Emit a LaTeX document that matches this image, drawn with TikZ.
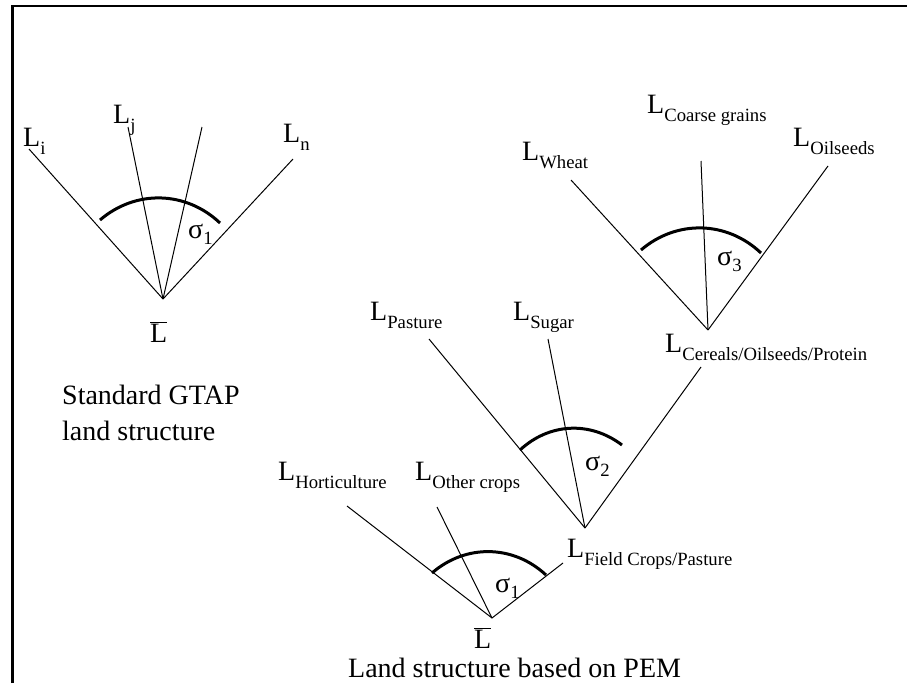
\documentclass[tikz,border=0pt]{standalone}
\usepackage{fontspec}
\setmainfont{Liberation Serif}
\newcommand{\Lsub}[1]{L\raisebox{-8pt}{\fontsize{18.7}{20}\selectfont #1}}
\newcommand{\Sigsub}[1]{σ\raisebox{-6pt}{\fontsize{18.7}{20}\selectfont #1}}
\newcommand{\Lbar}{$\overline{\hbox{L}}$}
\begin{document}
\begin{tikzpicture}[x=1pt,y=-1pt,
  branch/.style={line width=1pt},
  sigarc/.style={line width=3pt},
  frame/.style={line width=2.5pt, line join=miter},
  lbl/.style={anchor=base west, inner sep=0pt, font=\fontsize{28}{32}\selectfont}]
\useasboundingbox (0,0) rectangle (907,683);
% frame (cropped box)
\coordinate (fbl) at (12.5,683);
\coordinate (ftl) at (12.5,6);
\coordinate (ftr) at (907,6);
\draw[frame] (fbl) -- (ftl) -- (ftr);

% ---------- Standard GTAP ----------
\coordinate (a1) at (163,299);
\coordinate (li) at (29,149);
\coordinate (lj) at (128,127);
\coordinate (lu) at (202,127);
\coordinate (ln) at (293,159);
\coordinate (s1a) at (100,220);
\coordinate (s1b) at (220,223);
\draw[branch] (a1) -- (li);
\draw[branch] (a1) -- (lj);
\draw[branch] (a1) -- (lu);
\draw[branch] (a1) -- (ln);
\draw[sigarc] (s1a) to[bend left=42] (s1b);
\node[lbl] (tLi) at (23,146) {\Lsub{i}};
\node[lbl] (tLj) at (113,123) {\Lsub{j}};
\node[lbl] (tLn) at (283,142) {\Lsub{n}};
\node[lbl] (tS1) at (188,238) {\Sigsub{1}};
\node[lbl, text depth=0pt] (tLbar1) at (150,342) {\Lbar};
\node[lbl] (tStd1) at (62,404) {Standard GTAP};
\node[lbl] (tStd2) at (62,440) {land structure};

% ---------- PEM: cereals nest ----------
\coordinate (a3) at (708,330);
\coordinate (lw) at (571,180);
\coordinate (lc) at (701,161);
\coordinate (lo) at (828,166);
\coordinate (s3a) at (641,250);
\coordinate (s3b) at (761,253);
\draw[branch] (a3) -- (lw);
\draw[branch] (a3) -- (lc);
\draw[branch] (a3) -- (lo);
\draw[sigarc] (s3a) to[bend left=42] (s3b);
\node[lbl] (tLw) at (522,160) {\Lsub{Wheat}};
\node[lbl] (tLc) at (647,113) {\Lsub{Coarse grains}};
\node[lbl] (tLo) at (793,146) {\Lsub{Oilseeds}};
\node[lbl] (tS3) at (717,265) {\Sigsub{3}};
\node[lbl] (tLcer) at (665,352) {\Lsub{Cereals/Oilseeds/Protein}};

% ---------- PEM: field crops nest ----------
\coordinate (a2) at (585,528);
\coordinate (lp) at (429,339);
\coordinate (ls) at (548,339);
\coordinate (lcer) at (701,367);
\coordinate (s2a) at (520,450);
\coordinate (s2b) at (622,445);
\draw[branch] (a2) -- (lp);
\draw[branch] (a2) -- (ls);
\draw[branch] (a2) -- (lcer);
\draw[sigarc] (s2a) to[bend left=40] (s2b);
\node[lbl] (tLp) at (370,320) {\Lsub{Pasture}};
\node[lbl] (tLs) at (513,320) {\Lsub{Sugar}};
\node[lbl] (tS2) at (585,470) {\Sigsub{2}};
\node[lbl] (tLf) at (567,557) {\Lsub{Field Crops/Pasture}};

% ---------- PEM: top nest ----------
\coordinate (a0) at (492,618);
\coordinate (lh) at (347,506);
\coordinate (lot) at (437,507);
\coordinate (lf) at (563,563);
\coordinate (s0a) at (432,573);
\coordinate (s0b) at (546,575);
\draw[branch] (a0) -- (lh);
\draw[branch] (a0) -- (lot);
\draw[branch] (a0) -- (lf);
\draw[sigarc] (s0a) to[bend left=42] (s0b);
\node[lbl] (tLh) at (278,480) {\Lsub{Horticulture}};
\node[lbl] (tLot) at (415,480) {\Lsub{Other crops}};
\node[lbl] (tS0) at (495,592) {\Sigsub{1}};
\node[lbl, text depth=0pt] (tLbar2) at (474,648) {\Lbar};
\node[lbl] (tPEM) at (348,677) {Land structure based on PEM};
\end{tikzpicture}
\end{document}
